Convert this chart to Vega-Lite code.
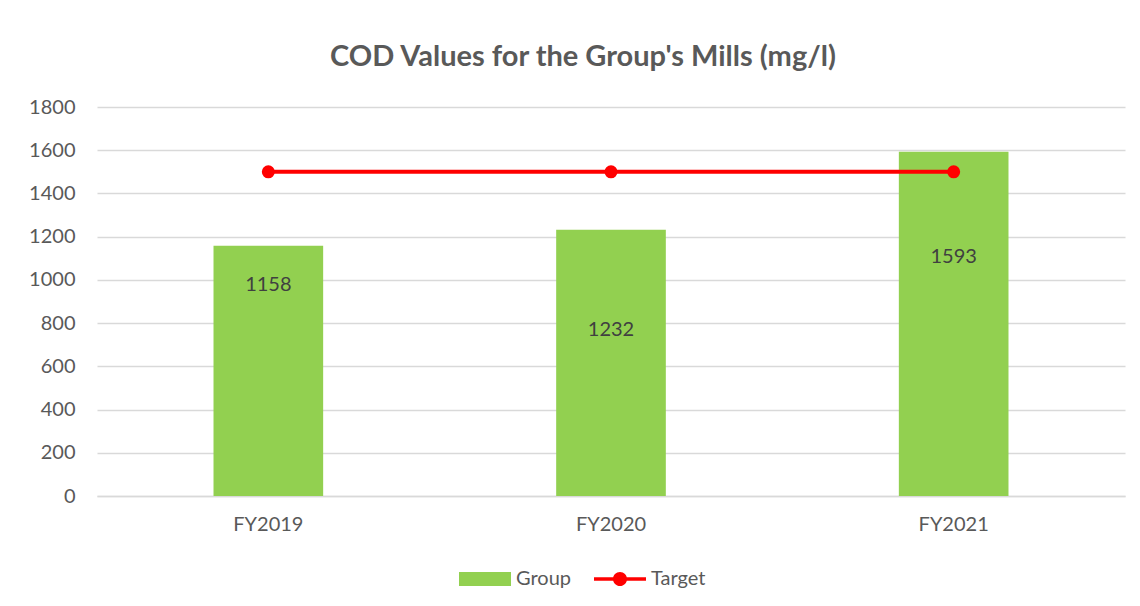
{
  "$schema": "https://vega.github.io/schema/vega-lite/v6.json",
  "width": 1028,
  "height": 389,
  "autosize": {"type": "none"},
  "padding": {"left": 97, "top": 107, "right": 15, "bottom": 110},
  "background": "white",
  "config": {
    "font": "Lato",
    "view": {"stroke": null}
  },
  "title": {
    "text": "COD Values for the Group's Mills (mg/l)",
    "anchor": "middle",
    "fontSize": 29,
    "fontWeight": "bold",
    "color": "#595959",
    "dx": -28,
    "offset": -4,
    "baseline": "bottom"
  },
  "data": {
    "values": [
      {"year": "FY2019", "group": 1158, "target": 1500},
      {"year": "FY2020", "group": 1232, "target": 1500},
      {"year": "FY2021", "group": 1593, "target": 1500}
    ]
  },
  "encoding": {
    "x": {
      "field": "year",
      "type": "nominal",
      "title": null,
      "scale": {"paddingInner": 0.68, "paddingOuter": 0.34},
      "axis": {
        "labelAngle": 0,
        "labelFontSize": 20,
        "labelColor": "#595959",
        "labelPadding": 18,
        "ticks": false,
        "domainColor": "#d9d9d9",
        "domainWidth": 1.5
      }
    }
  },
  "layer": [
    {
      "mark": {"type": "bar", "color": "#92D050"},
      "encoding": {
        "y": {
          "field": "group",
          "type": "quantitative",
          "title": null,
          "scale": {"domain": [0, 1800]},
          "axis": {
            "values": [0, 200, 400, 600, 800, 1000, 1200, 1400, 1600, 1800],
            "format": "d",
            "labelFontSize": 20,
            "labelColor": "#595959",
            "labelPadding": 22,
            "ticks": false,
            "domain": false,
            "gridColor": "#d9d9d9",
            "gridWidth": 1.5
          }
        },
        "color": {
          "datum": "Group",
          "type": "nominal",
          "scale": {"domain": ["Group", "Target"], "range": ["#92D050", "#FF0000"]},
          "legend": {
            "title": null,
            "orient": "none",
            "direction": "horizontal",
            "legendX": 362,
            "legendY": 446,
            "symbolSize": 2704,
            "symbolStrokeWidth": 0,
            "labelFontSize": 20,
            "labelColor": "#595959",
            "labelOffset": 5,
            "columnPadding": 22,
            "encode": {
              "symbols": {
                "update": {
                  "shape": {"signal": "datum.value === 'Group' ? 'M-1,-0.27L1,-0.27L1,0.27L-1,0.27Z' : 'M-1,-0.07L1,-0.07L1,0.07L-1,0.07Z M0.27,0A0.27,0.27 0 1,1 -0.27,0A0.27,0.27 0 1,1 0.27,0Z'"},
                  "fill": {"signal": "datum.value === 'Group' ? '#92D050' : '#FF0000'"},
                  "strokeWidth": {"value": 0},
                  "opacity": {"value": 1}
                }
              }
            }
          }
        }
      }
    },
    {
      "transform": [{"filter": "datum.year === 'FY2019'"}],
      "mark": {"type": "text", "fontSize": 20, "color": "#404040", "baseline": "middle", "dy": 39},
      "encoding": {
        "y": {"field": "group", "type": "quantitative"},
        "text": {"field": "group", "type": "quantitative"}
      }
    },
    {
      "transform": [{"filter": "datum.year === 'FY2020'"}],
      "mark": {"type": "text", "fontSize": 20, "color": "#404040", "baseline": "middle", "dy": 100},
      "encoding": {
        "y": {"field": "group", "type": "quantitative"},
        "text": {"field": "group", "type": "quantitative"}
      }
    },
    {
      "transform": [{"filter": "datum.year === 'FY2021'"}],
      "mark": {"type": "text", "fontSize": 20, "color": "#404040", "baseline": "middle", "dy": 105},
      "encoding": {
        "y": {"field": "group", "type": "quantitative"},
        "text": {"field": "group", "type": "quantitative"}
      }
    },
    {
      "mark": {"type": "line", "strokeWidth": 4, "point": {"filled": true, "size": 170, "color": "#FF0000"}},
      "encoding": {
        "y": {"field": "target", "type": "quantitative"},
        "color": {"datum": "Target", "type": "nominal"}
      }
    }
  ]
}
